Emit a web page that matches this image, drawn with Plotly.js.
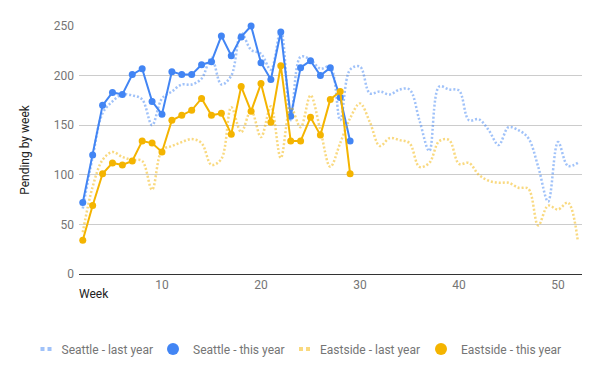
<!DOCTYPE html>
<html>
<head>
<meta charset="utf-8">
<script src="https://cdn.plot.ly/plotly-3.0.1.min.js"></script>
<style>
  html, body { margin: 0; padding: 0; background: #fff; }
  #chart { width: 600px; height: 371px; }
</style>
</head>
<body>
<div id="chart"></div>
<script>
// ---- data ----
const weeksThisYear = [2,3,4,5,6,7,8,9,10,11,12,13,14,15,16,17,18,19,20,21,22,23,24,25,26,27,28,29];
const seattleThisYear = [72,120,170,183,181,201,207,174,161,204,201,201,211,214,240,220,239,250,213,196,244,159,208,215,200,208,178,134];
const eastsideThisYear = [34,69,101,112,110,114,134,132,123,155,160,165,177,160,162,141,189,164,192,153,210,134,134,158,140,176,184,101];

const weeksLastYear = [2,3,4,5,6,7,8,9,10,11,12,13,14,15,16,17,18,19,20,21,22,23,24,25,26,27,28,29,30,31,32,33,34,35,36,37,38,39,40,41,42,43,44,45,46,47,48,49,50,51,52];
const seattleLastYear = [66,118,162,174,181,180,176,150,177,184,191,191,197,218,191,200,243,226,222,206,246,155,219,216,207,209,155,206,209,182,184,181,186,186,155,124,189,186,185,155,156,145,130,148,145,137,108,73,133,109,112];
const eastsideLastYear = [42,88,115,123,118,115,114,85,125,129,133,136,132,110,116,168,143,165,138,169,117,168,148,180,145,108,132,157,172,153,129,137,135,132,108,112,134,135,111,112,100,94,92,92,87,86,49,69,65,72,33];

const seriesNames = ['Seattle - last year', 'Seattle - this year', 'Eastside - last year', 'Eastside - this year'];
const xTickVals = [10, 20, 30, 40, 50];
const yTickVals = [0, 50, 100, 150, 200, 250];

// ---- styles ----
const BLUE = '#4285F4';
const YELLOW = '#F4B400';
const BLUE_LIGHT = 'rgba(66,133,244,0.5)';
const YELLOW_LIGHT = 'rgba(244,180,0,0.5)';
const LEGEND_DOTS = '0px,14px,4px,3px,4px,100px';

const traces = [
  {
    x: weeksLastYear, y: seattleLastYear, type: 'scatter', mode: 'lines',
    line: { color: BLUE_LIGHT, width: 2.5, dash: '2px,2px', shape: 'spline', smoothing: 1 },
    showlegend: false, hoverinfo: 'skip'
  },
  {
    x: weeksThisYear, y: seattleThisYear, type: 'scatter', mode: 'lines+markers',
    line: { color: BLUE, width: 2 }, marker: { color: BLUE, size: 7 },
    cliponaxis: false, showlegend: false
  },
  {
    x: weeksLastYear, y: eastsideLastYear, type: 'scatter', mode: 'lines',
    line: { color: YELLOW_LIGHT, width: 2.5, dash: '2px,2px', shape: 'spline', smoothing: 1 },
    showlegend: false, hoverinfo: 'skip'
  },
  {
    x: weeksThisYear, y: eastsideThisYear, type: 'scatter', mode: 'lines+markers',
    line: { color: YELLOW, width: 2 }, marker: { color: YELLOW, size: 7 },
    cliponaxis: false, showlegend: false
  },
  // legend entries
  { x: [null], y: [null], type: 'scatter', mode: 'lines', name: seriesNames[0], legend: 'legend',
    line: { color: BLUE_LIGHT, width: 4, dash: LEGEND_DOTS } },
  { x: [null], y: [null], type: 'scatter', mode: 'markers', name: seriesNames[1], legend: 'legend2',
    marker: { color: BLUE, size: 12 } },
  { x: [null], y: [null], type: 'scatter', mode: 'lines', name: seriesNames[2], legend: 'legend3',
    line: { color: YELLOW_LIGHT, width: 4, dash: LEGEND_DOTS } },
  { x: [null], y: [null], type: 'scatter', mode: 'markers', name: seriesNames[3], legend: 'legend4',
    marker: { color: YELLOW, size: 12 } }
];

function legendAt(textStartPx) {
  return {
    orientation: 'h', xref: 'container', yref: 'container',
    x: (textStartPx - 42) / 600, xanchor: 'left', y: 0.059, yanchor: 'middle',
    font: { size: 12, color: '#757575' },
    bgcolor: 'rgba(0,0,0,0)', borderwidth: 0,
    itemclick: false, itemdoubleclick: false
  };
}

const layout = {
  width: 600, height: 371,
  margin: { l: 79, r: 18, t: 26, b: 97 },
  paper_bgcolor: '#fff', plot_bgcolor: '#fff',
  font: { family: 'Roboto, Arial, sans-serif', size: 12, color: '#757575' },
  xaxis: {
    range: [1.62, 52.42],
    tickvals: xTickVals,
    ticktext: xTickVals.map(String),
    showgrid: false, zeroline: false, showline: false, ticks: '',
    ticklabelstandoff: 2,
    tickfont: { size: 12, color: '#757575' },
    fixedrange: true
  },
  yaxis: {
    range: [0, 250],
    tickvals: yTickVals,
    ticktext: yTickVals.map(String),
    showgrid: true, gridcolor: '#cccccc', gridwidth: 1,
    zeroline: true, zerolinecolor: '#333333', zerolinewidth: 1,
    showline: false, ticks: '',
    ticklabelstandoff: 4,
    tickfont: { size: 12, color: '#757575' },
    title: { text: 'Pending by week', font: { size: 12, color: '#222222' }, standoff: 21 },
    fixedrange: true
  },
  annotations: [
    { text: 'Week', xref: 'paper', yref: 'paper', x: 0, y: 0, xanchor: 'left', yanchor: 'middle',
      xshift: -2, yshift: -20, showarrow: false, font: { size: 12, color: '#222222' } }
  ],
  legend: legendAt(63.5),
  legend2: legendAt(195),
  legend3: legendAt(322),
  legend4: legendAt(463),
  showlegend: true
};

Plotly.newPlot('chart', traces, layout, { displayModeBar: false, staticPlot: true });
</script>
</body>
</html>
